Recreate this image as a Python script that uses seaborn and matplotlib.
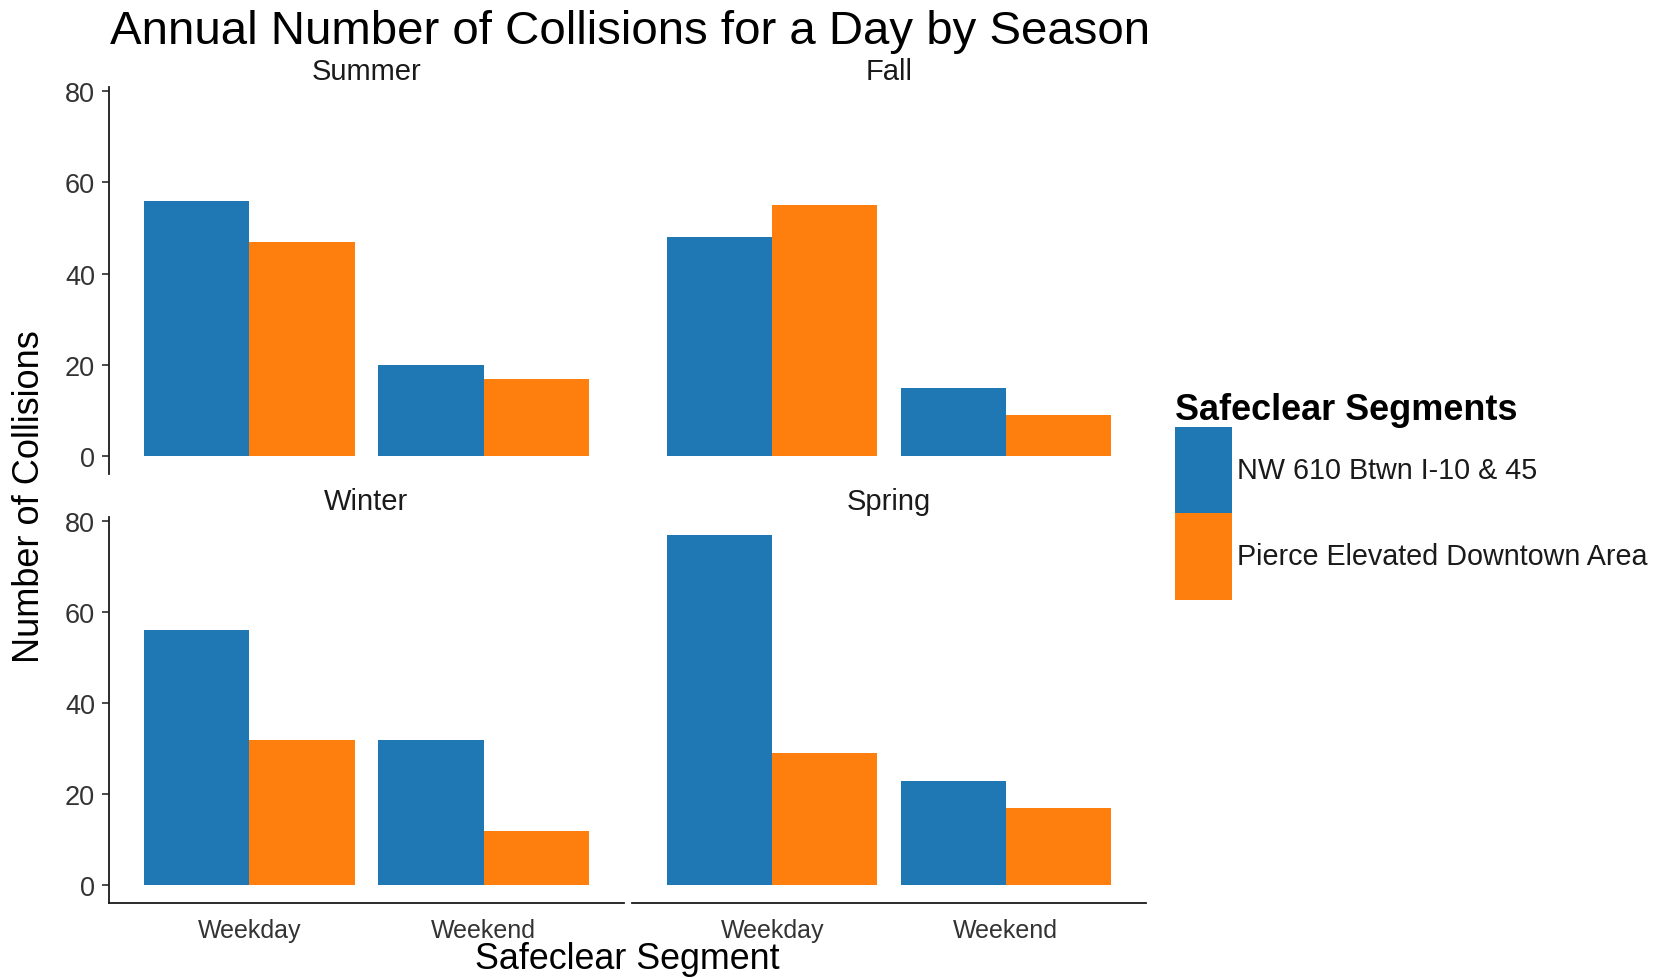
import matplotlib
matplotlib.use("Agg")
import matplotlib.pyplot as plt
from matplotlib.patches import Patch
import seaborn as sns
import pandas as pd

# ---- data ----
seasons = ["Summer", "Fall", "Winter", "Spring"]
days = ["Weekday", "Weekend"]
segments = ["NW 610 Btwn I-10 & 45", "Pierce Elevated Downtown Area"]
nw_values = {"Summer": [56, 20], "Fall": [48, 15], "Winter": [56, 32], "Spring": [77, 23]}
pierce_values = {"Summer": [47, 17], "Fall": [55, 9], "Winter": [32, 12], "Spring": [29, 17]}
y_ticks = [0, 20, 40, 60, 80]

rows = []
for s in seasons:
    for i, d in enumerate(days):
        rows.append({"Season": s, "Day": d, "Segment": segments[0], "Count": nw_values[s][i]})
        rows.append({"Season": s, "Day": d, "Segment": segments[1], "Count": pierce_values[s][i]})
df = pd.DataFrame(rows)

palette = {segments[0]: "#1f77b4", segments[1]: "#ff7f0e"}

sns.set_theme(style="white")
plt.rcParams["font.family"] = ["Liberation Sans", "DejaVu Sans"]
plt.rcParams["text.color"] = "black"

W, H = 1663, 979
fig = plt.figure(figsize=(W / 100, H / 100), dpi=100)

# panel boxes in pixels (left, top, right, bottom)
cols = [(109, 624), (632, 1146)]
rows_px = [(88, 475), (518, 904)]

ymax = max(max(max(v) for v in nw_values.values()), max(max(v) for v in pierce_values.values()))
ylo, yhi = -0.05 * ymax, ymax * 1.05

tick_color = "#333333"
for k, s in enumerate(seasons):
    r, c = divmod(k, 2)
    x0, x1 = cols[c]
    t0, t1 = rows_px[r]
    ax = fig.add_axes([x0 / W, 1 - t1 / H, (x1 - x0) / W, (t1 - t0) / H])
    sub = df[df["Season"] == s]
    sns.barplot(data=sub, x="Day", y="Count", hue="Segment", order=days,
                hue_order=segments, palette=palette, width=0.9, gap=0,
                saturation=1, edgecolor="none", linewidth=0, errorbar=None,
                legend=False, ax=ax)
    ax.set_xlim(-0.6, 1.6)
    ax.set_ylim(ylo, yhi)
    ax.set_xlabel("")
    ax.set_ylabel("")
    for sp in ["top", "right"]:
        ax.spines[sp].set_visible(False)
    ax.spines["left"].set_visible(c == 0)
    ax.spines["bottom"].set_visible(r == 1)
    for sp in ["left", "bottom"]:
        ax.spines[sp].set_color("#1a1a1a")
        ax.spines[sp].set_linewidth(1.3)
    ax.set_yticks(y_ticks)
    if c == 0:
        ax.tick_params(axis="y", which="both", left=True, direction="out", length=5,
                       width=1.1, color="#1a1a1a", labelsize=19.5, labelcolor=tick_color, pad=5)
    else:
        ax.tick_params(axis="y", left=False, labelleft=False)
    if r == 1:
        ax.tick_params(axis="x", bottom=False, labelbottom=True, labelsize=18,
                       labelcolor=tick_color, pad=5)
    else:
        ax.tick_params(axis="x", bottom=False, labelbottom=False)
    ax.set_title(s, fontsize=21, pad=6, color="#1a1a1a")

fig.text(110 / W, 1 - 44 / H, "Annual Number of Collisions for a Day by Season",
         fontsize=34.1, ha="left", va="baseline", color="black")
fig.text(627.5 / W, 1 - 960 / H, "Safeclear Segment", fontsize=25.8,
         ha="center", va="center", color="black")
fig.text(30 / W, 1 - 497 / H, "Number of Collisions", fontsize=26,
         ha="center", va="center", rotation=90, color="black")

handles = [Patch(facecolor=palette[sg], edgecolor="none") for sg in segments]
leg = fig.legend(handles, segments, loc="upper left",
                 bbox_to_anchor=(1175 / W, 1 - 393 / H), frameon=False,
                 fontsize=20.7, title="Safeclear Segments",
                 title_fontproperties={"weight": "bold", "size": 25.9},
                 handlelength=1.98, handleheight=4.25, handletextpad=0.17,
                 labelspacing=0, borderpad=0, borderaxespad=0, alignment="left")
leg.get_title().set_color("black")
for t in leg.get_texts():
    t.set_color("#1a1a1a")

fig.savefig("out.png", dpi=100)
